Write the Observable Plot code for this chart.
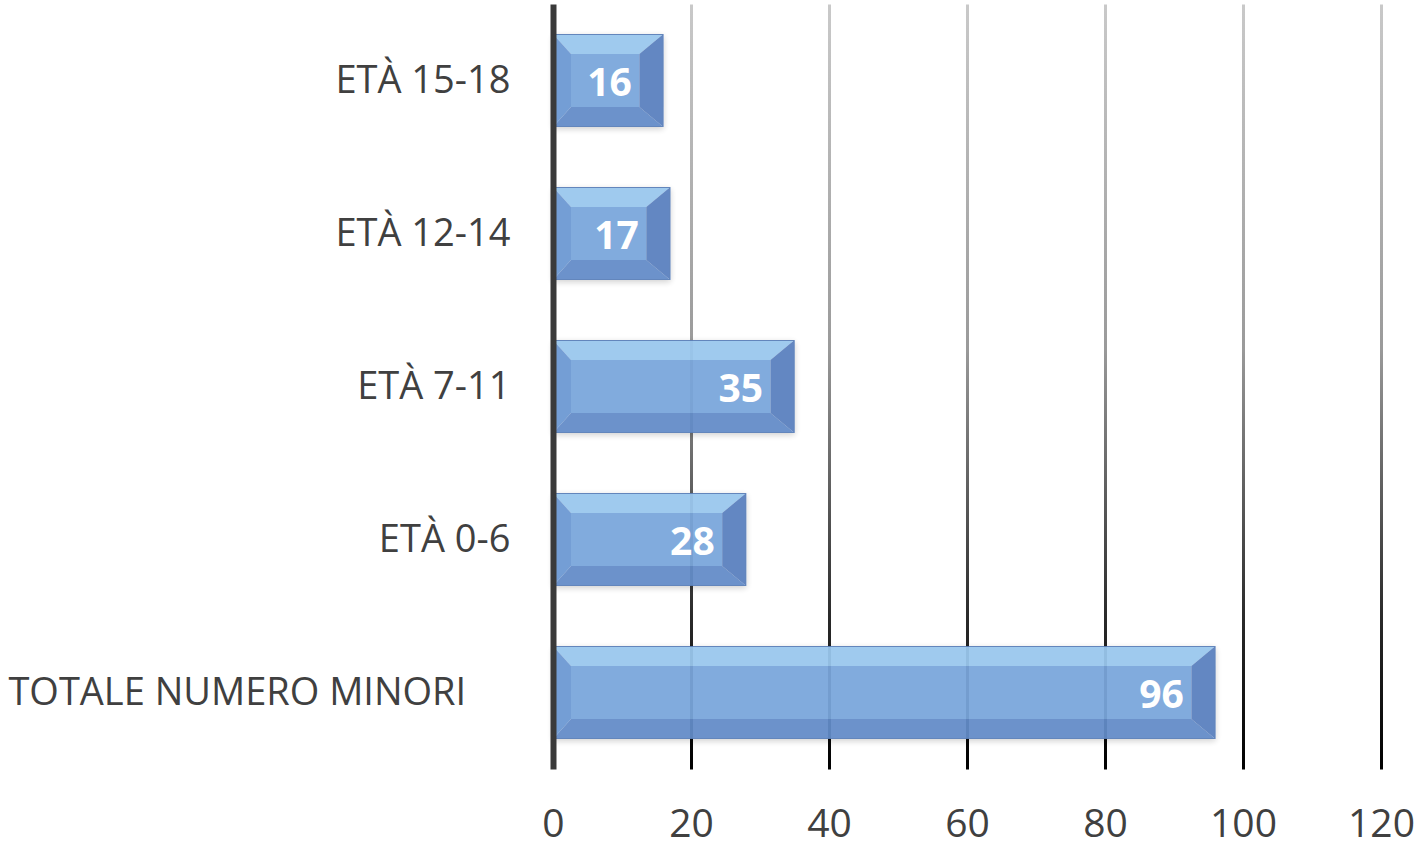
<!DOCTYPE html>
<html>
<head>
<meta charset="utf-8">
<script src="https://cdn.jsdelivr.net/npm/d3@7"></script>
<script src="https://cdn.jsdelivr.net/npm/@observablehq/plot@0.6"></script>
<style>
  html, body { margin: 0; padding: 0; background: #ffffff; }
  #chart svg { display: block; }
</style>
</head>
<body>
<div id="chart"></div>
<script>
// Minors by age group, with the overall total at the bottom
const categories = ["ETÀ 15-18", "ETÀ 12-14", "ETÀ 7-11", "ETÀ 0-6", "TOTALE NUMERO MINORI"];
const values = [16, 17, 35, 28, 96];
const xTicks = [0, 20, 40, 60, 80, 100, 120];

const data = categories.map((category, i) => ({category, value: values[i]}));

const FONT = "'Open Sans', sans-serif";
const W = 1424, H = 848;
const marginTop = 4.5, marginBottom = 78.5;

// Shared SVG definitions: grid-line gradient and a soft bar shadow
const defs = () => {
  const d = d3.create("svg:defs");
  const g = d.append("linearGradient")
    .attr("id", "gridGrad")
    .attr("gradientUnits", "userSpaceOnUse")
    .attr("x1", 0).attr("x2", 0)
    .attr("y1", marginTop).attr("y2", H - marginBottom);
  [[0, "#c9c9c9"], [0.45, "#9a9a9a"], [0.8, "#2a2a2a"], [1, "#000000"]]
    .forEach(([o, c]) => g.append("stop").attr("offset", o).attr("stop-color", c));
  const f = d.append("filter").attr("id", "barShadow")
    .attr("x", "-10%").attr("y", "-20%").attr("width", "120%").attr("height", "140%");
  f.append("feDropShadow").attr("dx", 0).attr("dy", 2).attr("stdDeviation", 3)
    .attr("flood-color", "#000").attr("flood-opacity", 0.2);
  return d.node();
};

// Beveled bar: the rect computed by Plot is split into four edge facets and a face
function bevelRender(index, scales, vals, dimensions, context, next) {
  const g = next(index, scales, vals, dimensions, context);
  const sel = d3.select(g);
  sel.selectAll("rect").each(function() {
    const r = d3.select(this);
    const x = +r.attr("x"), y = +r.attr("y"), w = +r.attr("width"), h = +r.attr("height");
    const bl = 18, br = 24, bt = 20, bb = 20;
    const grp = sel.append("g").attr("filter", "url(#barShadow)").attr("opacity", 0.94);
    const poly = (pts, fill) => grp.append("polygon")
      .attr("points", pts.map(p => p.join(",")).join(" ")).attr("fill", fill);
    // face
    grp.append("rect").attr("x", x + bl).attr("y", y + bt)
      .attr("width", Math.max(0, w - bl - br)).attr("height", h - bt - bb).attr("fill", "#7aa6db");
    poly([[x, y], [x + w, y], [x + w - br, y + bt], [x + bl, y + bt]], "#9ac7ee");
    poly([[x, y + h], [x + w, y + h], [x + w - br, y + h - bb], [x + bl, y + h - bb]], "#648cc8");
    poly([[x, y], [x + bl, y + bt], [x + bl, y + h - bb], [x, y + h]], "#6c98d3");
    poly([[x + w, y], [x + w - br, y + bt], [x + w - br, y + h - bb], [x + w, y + h]], "#5a80bf");
    grp.append("rect").attr("x", x + 0.5).attr("y", y + 0.5).attr("width", w - 1).attr("height", h - 1)
      .attr("fill", "none").attr("stroke", "#5a7fb8").attr("stroke-width", 1);
    r.remove();
  });
  return g;
}

const plot = Plot.plot({
  width: W,
  height: H,
  marginLeft: 553,
  marginRight: 43,
  marginTop,
  marginBottom,
  style: {fontFamily: FONT, background: "#ffffff"},
  x: {domain: [0, 120]},
  y: {domain: categories, paddingInner: 0.39, paddingOuter: 0.195},
  marks: [
    defs,
    Plot.ruleX(xTicks.filter(t => t > 0), {stroke: "url(#gridGrad)", strokeWidth: 3}),
    Plot.barX(data, {x: "value", y: "category", fill: "#7aa6db", render: bevelRender}),
    Plot.ruleX([0], {stroke: "#3a3a3a", strokeWidth: 6}),
    Plot.text(data, {
      x: "value", y: "category", text: d => String(d.value),
      textAnchor: "end", dx: -32, dy: 3,
      fill: "#ffffff", fontSize: 39, fontWeight: "bold", fontFamily: FONT
    }),
    Plot.axisX({
      ticks: xTicks, tickSize: 0, tickPadding: 39, fontSize: 39,
      color: "#404040", label: null, tickFormat: d => String(d)
    }),
    Plot.axisY({
      tickSize: 0, tickPadding: 43, fontSize: 38, color: "#404040", label: null,
      tickFormat: d => d === categories[categories.length - 1] ? d + "\u2003\u2009" : d
    })
  ]
});

document.getElementById("chart").appendChild(plot);
</script>
</body>
</html>
